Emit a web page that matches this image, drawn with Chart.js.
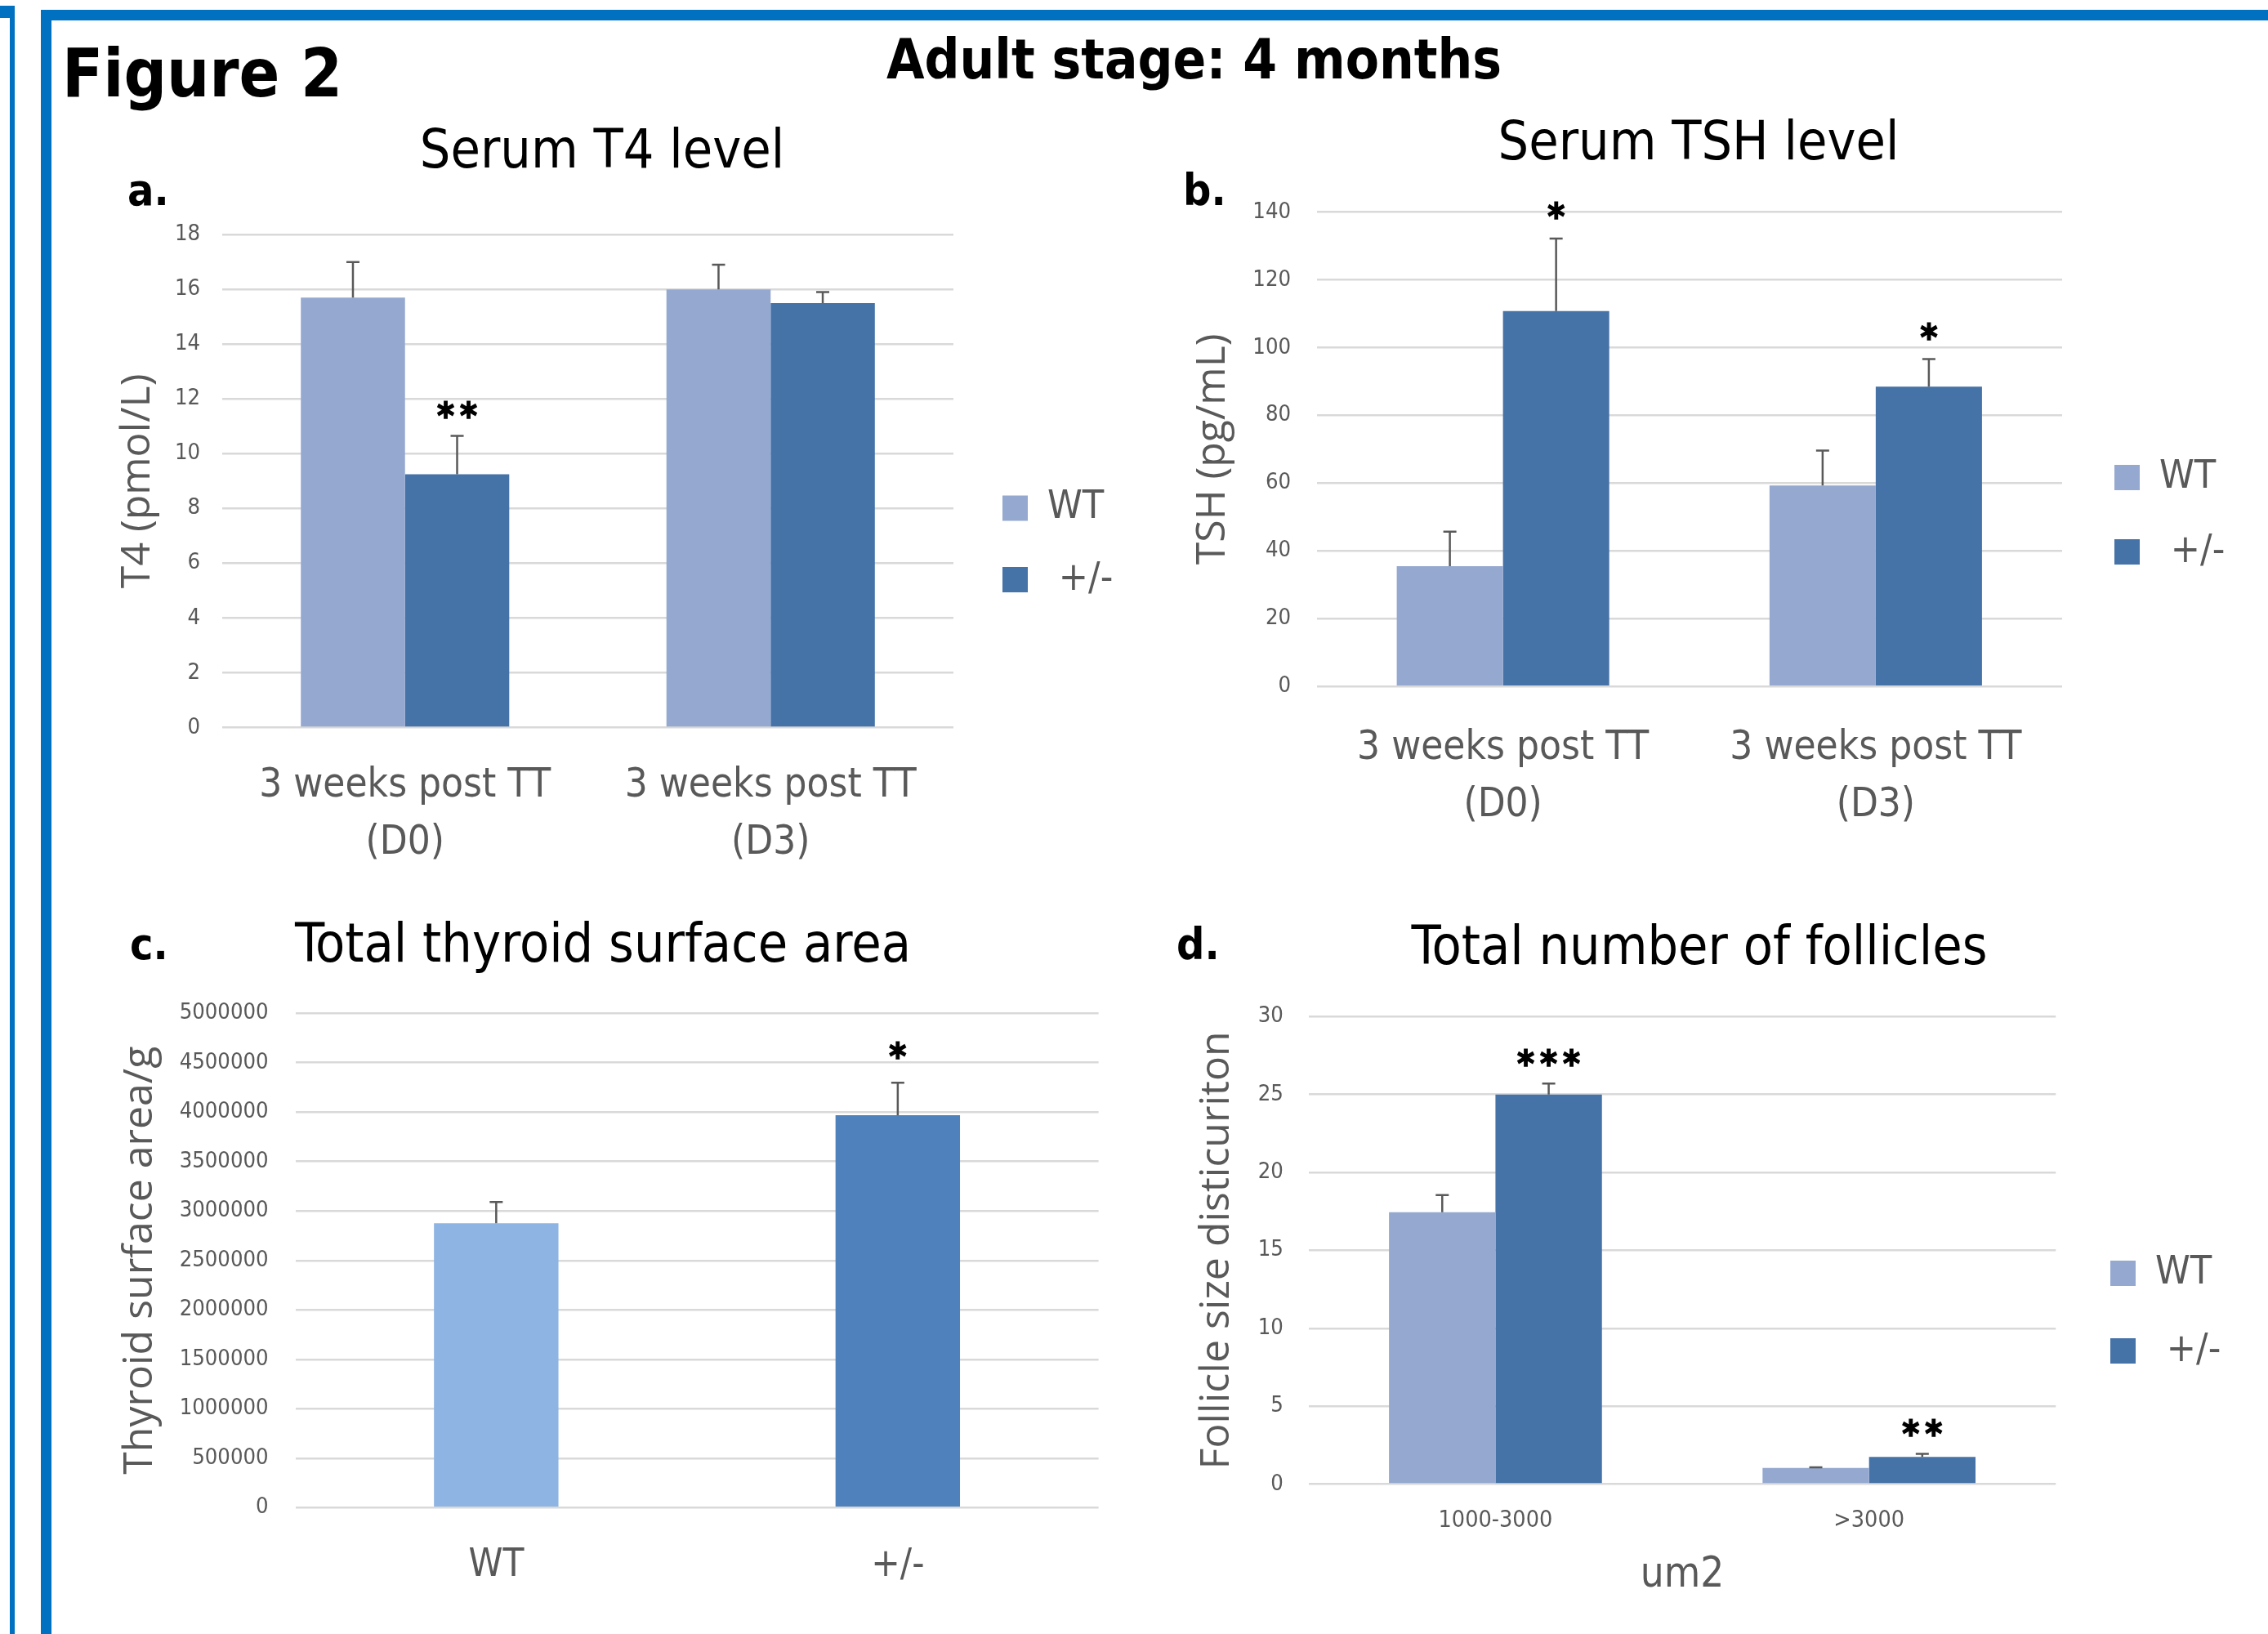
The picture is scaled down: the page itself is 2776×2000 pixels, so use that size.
<!DOCTYPE html>
<html lang="en">
<head>
<meta charset="utf-8">
<title>Figure 2 - Adult stage: 4 months</title>
<script src="https://cdn.jsdelivr.net/npm/chart.js@4.4.1/dist/chart.umd.min.js"></script>
<style>
  html, body { margin: 0; padding: 0; background: #fff; }
  body { position: relative; width: 2776px; height: 2000px; overflow: hidden; }
  svg, canvas { position: absolute; left: 0; top: 0; }
  #frame text { fill: #000; font-weight: bold; }
</style>
</head>
<body>
<svg id="frame" width="2776" height="2000">
  <rect x="0" y="7" width="18" height="15" fill="#0070C0"/>
  <rect x="12" y="7" width="6" height="1993" fill="#0070C0"/>
  <rect x="50" y="12" width="13" height="1988" fill="#0070C0"/>
  <rect x="50" y="12" width="2726" height="13" fill="#0070C0"/>
  <text x="76" y="118" data-size="104">Figure 2</text>
  <text x="1085" y="96" data-size="85">Adult stage: 4 months</text>
  <text x="156" y="251" data-size="68">a.</text>
  <text x="1448" y="251" data-size="68">b.</text>
  <text x="159" y="1174" data-size="68">c.</text>
  <text x="1440" y="1174" data-size="68">d.</text>
</svg>
<canvas id="t4"></canvas>
<canvas id="tsh"></canvas>
<canvas id="area"></canvas>
<canvas id="foll"></canvas>
<script>
// values
const seriesNames = ['WT', ' +/-'];
const dayGroups = [['3 weeks post TT', '(D0)'], ['3 weeks post TT', '(D3)']];

// a. serum T4 (pmol/L)
const t4Ticks = [0, 18, 2];
const t4WT = [15.7, 16.0];
const t4WTErr = [1.3, 0.9];
const t4Het = [9.25, 15.5];
const t4HetErr = [1.4, 0.4];
const t4HetStars = ['**', ''];

// b. serum TSH (pg/mL)
const tshTicks = [0, 140, 20];
const tshWT = [35.5, 59.3];
const tshWTErr = [10.2, 10.3];
const tshHet = [110.8, 88.5];
const tshHetErr = [21.4, 8.1];
const tshHetStars = ['*', '*'];

// c. total thyroid surface area / g
const areaTicks = [0, 5000000, 500000];
const areaGroups = ['WT', '+/-'];
const areaMean = [2876000, 3968000];
const areaErr = [214000, 330000];
const areaStars = ['', '*'];

// d. follicle size distribution
const follTicks = [0, 30, 5];
const follBins = ['1000-3000', '>3000'];
const follWT = [17.45, 1.04];
const follWTErr = [1.1, 0.03];
const follHet = [25.0, 1.74];
const follHetErr = [0.7, 0.2];
const follHetStars = ['***', '**'];

const WT_COLOR = '#95A9D0';
const HET_COLOR = '#4572A7';
const GREY = '#595959';

// the figure was set in Calibri; use the narrowest installed face and size it to Calibri widths
function pickFont(names) {
  const ctx = document.createElement('canvas').getContext('2d');
  const probe = 'Wwg 3 weeks post TT 0123456789';
  ctx.font = '100px monospace';
  const base = ctx.measureText(probe).width;
  for (const name of names) {
    ctx.font = `100px "${name}", monospace`;
    if (Math.abs(ctx.measureText(probe).width - base) > 0.5) return `"${name}"`;
  }
  return 'sans-serif';
}
function textWidth(text, font) {
  const ctx = document.createElement('canvas').getContext('2d');
  ctx.font = font;
  return ctx.measureText(text).width;
}
const NARROW = pickFont(['DejaVu Sans Condensed', 'Liberation Sans Narrow', 'Arial Narrow', 'Liberation Sans']);
const fit = 649 / textWidth('3 weeks post TT', `100px ${NARROW}`);
const fitBold = 330 / textWidth('Figure 2', `bold 100px ${NARROW}`);
const cal = s => Math.round(s * fit * 10) / 10;
const calB = s => Math.round(s * fitBold * 10) / 10;

const probe = document.createElement('canvas').getContext('2d');
probe.font = `bold 100px ${NARROW}`;
const sm = probe.measureText('*');
const starSize = 2100 / (sm.actualBoundingBoxAscent + sm.actualBoundingBoxDescent);

document.querySelectorAll('#frame text').forEach(t => {
  t.style.fontFamily = NARROW;
  t.style.fontSize = calB(+t.dataset.size) + 'px';
});

// error bars (upper only) and significance stars
const errorBars = {
  id: 'errorBars',
  afterDatasetsDraw(chart, args, opts) {
    const { ctx, scales: { y } } = chart;
    ctx.save();
    chart.data.datasets.forEach((ds, i) => {
      chart.getDatasetMeta(i).data.forEach((bar, j) => {
        const top = y.getPixelForValue(ds.data[j] + ds.errors[j]);
        ctx.strokeStyle = GREY;
        ctx.lineWidth = 2.5;
        ctx.beginPath();
        ctx.moveTo(bar.x, bar.y);
        ctx.lineTo(bar.x, top);
        ctx.moveTo(bar.x - 8, top);
        ctx.lineTo(bar.x + 8, top);
        ctx.stroke();
        const stars = ds.stars ? ds.stars[j] : '';
        if (!stars) return;
        ctx.font = `bold ${starSize}px ${NARROW}`;
        ctx.fillStyle = '#000';
        ctx.strokeStyle = '#000';
        ctx.lineWidth = 1.5;
        ctx.textAlign = 'center';
        ctx.textBaseline = 'alphabetic';
        const m = ctx.measureText('*');
        const base = top - opts.gap + (m.actualBoundingBoxAscent - m.actualBoundingBoxDescent) / 2;
        for (let k = 0; k < stars.length; k++) {
          const sx = bar.x + (k - (stars.length - 1) / 2) * 28;
          ctx.fillText('*', sx, base);
          ctx.strokeText('*', sx, base);
        }
      });
    });
    ctx.restore();
  }
};

// move title and legend to where Excel had them, after Chart.js did its layout
const nudge = {
  id: 'nudge',
  afterLayout(chart, args, o) {
    const t = chart.titleBlock;
    if (t && o.titleX !== undefined) {
      const d = o.titleX - (t.left + t.right) / 2;
      t.left += d;
      t.right += d;
    }
    const l = chart.legend;
    if (l && o.legendX !== undefined) {
      const dx = o.legendX - (l.left + l.options.labels.padding);
      const dy = o.legendY - (l.top + l.bottom) / 2;
      l.left += dx;
      l.right = chart.width;
      l.top += dy;
      l.bottom += dy;
      l.width = l.right - l.left;
    }
  }
};

// page geometry of each panel (canvas box, plot area, label anchors)
const geoT4 = { id: 't4', x: 80, y: 110, w: 1320, h: 990, plot: [272, 1167, 287.2, 890.5],
  titleX: 737, titleY: 187.5, yTitleX: 169, tickGap: 27, xLabelY: 962,
  legendX: 1227, legendY: 665.7, legendStep: 87.5, starGap: 32 };
const geoTSH = { id: 'tsh', x: 1400, y: 100, w: 1376, h: 960, plot: [1611.5, 2524, 259.6, 840.2],
  titleX: 2079, titleY: 177.5, yTitleX: 1485, tickGap: 31.5, xLabelY: 916,
  legendX: 2588, legendY: 630, legendStep: 91, starGap: 34 };
const geoArea = { id: 'area', x: 80, y: 1090, w: 1320, h: 880, plot: [361.6, 1344.6, 1240.2, 1845.3],
  titleX: 738, titleY: 1159.5, yTitleX: 172, tickGap: 33, xLabelY: 1917, starGap: 40 };
const geoFoll = { id: 'foll', x: 1400, y: 1090, w: 1376, h: 890, plot: [1601.8, 2516.3, 1244.3, 1816.5],
  titleX: 2080, titleY: 1162.5, yTitleX: 1490, tickGap: 31, xLabelY: 1862, xTitleY: 1929,
  legendX: 2583, legendY: 1606, legendStep: 95, starGap: 32 };

function makeChart(g, title, labels, datasets, yTicks, yTitle, xFont, xTitle) {
  const [L, R, T, B] = g.plot;
  const canvas = document.getElementById(g.id);
  canvas.width = g.w;
  canvas.height = g.h;
  canvas.style.left = g.x + 'px';
  canvas.style.top = g.y + 'px';

  const titleSize = cal(74);
  const titleLine = titleSize * 1.2;
  const yTitleSize = 50;
  const legendSize = cal(54);
  const legendW = 100;
  const hasLegend = g.legendX !== undefined;
  const xTitleSize = cal(57);

  return new Chart(canvas, {
    type: 'bar',
    data: { labels: labels, datasets: datasets },
    plugins: [errorBars, nudge],
    options: {
      responsive: false,
      animation: false,
      events: [],
      layout: { padding: { right: g.w - (R - g.x) - (hasLegend ? legendW : 0) } },
      plugins: {
        title: {
          display: true,
          text: title,
          color: '#000',
          font: { family: NARROW, size: titleSize, weight: 'normal', lineHeight: 1.2 },
          padding: { top: g.titleY - g.y - titleLine / 2, bottom: T - g.titleY - titleLine / 2 }
        },
        legend: {
          display: hasLegend,
          position: 'right',
          maxWidth: legendW,
          labels: {
            boxWidth: 31,
            boxHeight: 31,
            padding: g.legendStep - legendSize,
            color: GREY,
            font: { family: NARROW, size: legendSize }
          }
        },
        tooltip: { enabled: false },
        nudge: {
          titleX: g.titleX - g.x,
          legendX: hasLegend ? g.legendX - g.x : undefined,
          legendY: hasLegend ? g.legendY - g.y : undefined
        },
        errorBars: { gap: g.starGap }
      },
      scales: {
        x: {
          grid: { display: false, drawTicks: false },
          border: { display: false },
          ticks: {
            color: GREY,
            autoSkip: false,
            maxRotation: 0,
            font: { family: NARROW, size: xFont.size, lineHeight: xFont.line + 'px' },
            padding: g.xLabelY - B - xFont.line / 2
          },
          title: xTitle ? {
            display: true,
            text: xTitle,
            color: GREY,
            font: { family: NARROW, size: xTitleSize, lineHeight: 1.2 },
            padding: { top: 0, bottom: g.y + g.h - g.xTitleY - xTitleSize * 0.6 }
          } : { display: false },
          afterFit: s => { s.height = g.y + g.h - B; }
        },
        y: {
          min: yTicks[0],
          max: yTicks[1],
          grid: { color: '#D9D9D9', lineWidth: 2.5, drawTicks: false },
          border: { display: false },
          ticks: {
            stepSize: yTicks[2],
            padding: g.tickGap,
            color: GREY,
            font: { family: NARROW, size: cal(30.5) },
            callback: v => String(v)
          },
          title: {
            display: true,
            text: yTitle,
            color: GREY,
            font: { family: "'Open Sans'", size: yTitleSize, lineHeight: 1.2 },
            padding: { top: g.yTitleX - g.x - yTitleSize * 0.6, bottom: 0 }
          },
          afterFit: s => { s.width = L - g.x; }
        }
      }
    }
  });
}

const pair = (wt, wtErr, het, hetErr, hetStars) => [
  { label: seriesNames[0], data: wt, errors: wtErr, backgroundColor: WT_COLOR,
    categoryPercentage: 0.57, barPercentage: 1 },
  { label: seriesNames[1], data: het, errors: hetErr, stars: hetStars, backgroundColor: HET_COLOR,
    categoryPercentage: 0.57, barPercentage: 1 }
];

const bigLabels = { size: cal(55), line: 70 };

makeChart(geoT4, 'Serum T4 level', dayGroups,
  pair(t4WT, t4WTErr, t4Het, t4HetErr, t4HetStars),
  t4Ticks, 'T4 (pmol/L)', bigLabels);

makeChart(geoTSH, 'Serum TSH level', dayGroups,
  pair(tshWT, tshWTErr, tshHet, tshHetErr, tshHetStars),
  tshTicks, 'TSH (pg/mL)', bigLabels);

makeChart(geoArea, 'Total thyroid surface area', areaGroups,
  [{ label: 'Thyroid surface area/g', data: areaMean, errors: areaErr, stars: areaStars,
     backgroundColor: ['#8EB4E3', '#4F81BD'], categoryPercentage: 0.31, barPercentage: 1 }],
  areaTicks, 'Thyroid surface area/g', { size: cal(53), line: cal(53) * 1.2 });

makeChart(geoFoll, 'Total number of follicles', follBins,
  pair(follWT, follWTErr, follHet, follHetErr, follHetStars),
  follTicks, 'Follicle size disticuriton', { size: cal(32), line: cal(32) * 1.2 }, 'um2');
</script>
</body>
</html>
